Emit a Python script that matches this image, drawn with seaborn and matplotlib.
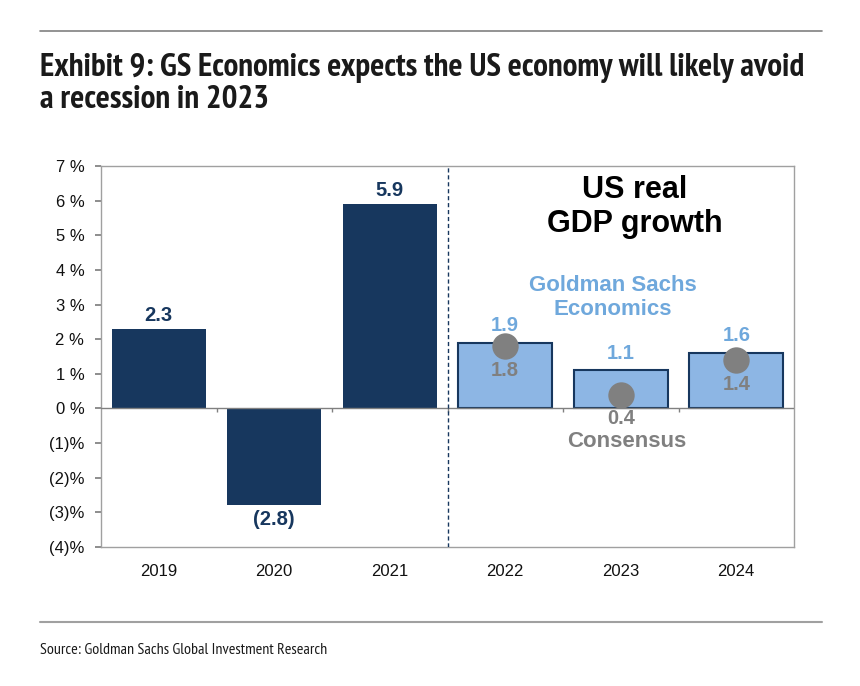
import matplotlib
matplotlib.use("Agg")
import matplotlib.pyplot as plt
from matplotlib.lines import Line2D
from matplotlib import font_manager
import matplotlib.patheffects as pe
import seaborn as sns
import pandas as pd
import numpy as np

# ---- data ----
years = ["2019", "2020", "2021", "2022", "2023", "2024"]
actual_years = ["2019", "2020", "2021"]
actual_values = [2.3, -2.8, 5.9]
actual_labels = ["2.3", "(2.8)", "5.9"]
forecast_years = ["2022", "2023", "2024"]
gs_values = [1.9, 1.1, 1.6]
gs_labels = ["1.9", "1.1", "1.6"]
consensus_values = [1.8, 0.4, 1.4]
consensus_labels = ["1.8", "0.4", "1.4"]
y_ticks = [-4, -3, -2, -1, 0, 1, 2, 3, 4, 5, 6, 7]

NAVY = "#17375E"
LIGHT = "#8DB6E4"
GS_TEXT = "#6FA8DC"
GRAY = "#808080"
HDR = "#1a1a1a"

sns.set_theme(style="white")
plt.rcParams["font.family"] = ["Liberation Sans", "DejaVu Sans"]

# look for a narrow / condensed face for the header (fallback: Liberation Sans)
CONDENSED = ("condensed", "semi-condensed", "extra-condensed", "ultra-condensed")


def _w(f):
    w = f.weight
    if isinstance(w, str):
        return 700 if "bold" in w.lower() else 400
    return int(w)


narrow = [f for f in font_manager.fontManager.ttflist
          if "Narrow" in f.name or "Narrow" in str(f.fname)]
cond_name, cond_stretch, bold_available = "Liberation Sans", "normal", True
if narrow:
    bold_narrow = [f for f in narrow if _w(f) >= 600]
    pick = bold_narrow[0] if bold_narrow else narrow[0]
    bold_available = bool(bold_narrow)
    cond_name = pick.name
    st = pick.stretch if isinstance(pick.stretch, str) else str(pick.stretch)
    cond_stretch = st if st in CONDENSED else "normal"

df = pd.DataFrame({
    "year": actual_years + forecast_years,
    "value": actual_values + gs_values,
    "kind": ["actual"] * len(actual_years) + ["gs"] * len(forecast_years),
})

fig = plt.figure(figsize=(8.6, 6.86), dpi=100)
ax = fig.add_axes([101 / 860, 1 - 547 / 686, (794 - 101) / 860, (547 - 166) / 686])

sns.barplot(data=df, x="year", y="value", hue="kind", order=years,
            palette={"actual": NAVY, "gs": LIGHT}, dodge=False, width=0.81,
            legend=False, ax=ax, saturation=1)
light_rgb = matplotlib.colors.to_rgb(LIGHT)
for p in ax.patches:
    fc = p.get_facecolor()
    if abs(fc[0] - light_rgb[0]) < 0.02:
        p.set_edgecolor(NAVY)
        p.set_linewidth(1.5)
    else:
        p.set_linewidth(0)

sns.stripplot(x=forecast_years, y=consensus_values, order=years, jitter=False,
              color=GRAY, size=19, ax=ax, zorder=5, linewidth=0)

ax.set_xlim(-0.5, len(years) - 0.5)
ax.set_ylim(min(y_ticks), max(y_ticks))
ax.set_yticks(y_ticks)
ax.set_yticklabels([f"{v} %" if v >= 0 else f"({-v})%" for v in y_ticks])
ax.set_xlabel("")
ax.set_ylabel("")
ax.tick_params(axis="y", length=4, color=GRAY, direction="out", labelsize=12, pad=8,
               left=True, labelcolor="#111111")
ax.tick_params(axis="x", length=0, labelsize=12, pad=12, labelcolor="#111111")
for s in ax.spines.values():
    s.set_color("#A0A0A0")
    s.set_linewidth(1)

ax.axhline(0, color=GRAY, lw=1, zorder=3)
bounds = np.arange(0.5, len(years) - 1)
ax.vlines(bounds, -0.1, 0, color=GRAY, lw=1, zorder=3)
ax.axvline(len(actual_years) - 0.5, color=NAVY, lw=1, ls=(0, (3, 2)), zorder=4)

# value labels
for i, (v, lab) in enumerate(zip(actual_values, actual_labels)):
    if v >= 0:
        ax.text(i, v + 0.12, lab, ha="center", va="bottom", color=NAVY,
                fontsize=14.5, fontweight="bold")
    else:
        ax.text(i, v - 0.12, lab, ha="center", va="top", color=NAVY,
                fontsize=14.5, fontweight="bold")

off = len(actual_years)
for j, (g, c, gl, cl) in enumerate(zip(gs_values, consensus_values, gs_labels, consensus_labels)):
    x = off + j
    gy = g + 0.22 if g >= c + 0.3 else max(g, c) + 0.22
    ax.text(x, gy, gl, ha="center", va="bottom",
            color=GS_TEXT, fontsize=14.5, fontweight="bold", zorder=4)
    ax.text(x, c - 0.42, cl, ha="center", va="top", color=GRAY,
            fontsize=14.5, fontweight="bold", zorder=4)

ax.text(4.12, 5.82, "US real\nGDP growth", ha="center", va="center", fontsize=22,
        fontweight="bold", color="black", linespacing=1.15)
ax.text(3.93, 3.2, "Goldman Sachs\nEconomics", ha="center", va="center", fontsize=16,
        fontweight="bold", color=GS_TEXT, linespacing=1.2)
ax.text(4.05, -0.95, "Consensus", ha="center", va="center", fontsize=16,
        fontweight="bold", color=GRAY)

# header / footer rules
fig.add_artist(Line2D([40 / 860, 822 / 860], [1 - 31 / 686] * 2, transform=fig.transFigure,
                      color=GRAY, lw=1.2))
fig.add_artist(Line2D([40 / 860, 822 / 860], [1 - 622 / 686] * 2, transform=fig.transFigure,
                      color="#A0A0A0", lw=1.5))

hdr_family = [cond_name, "Liberation Sans", "DejaVu Sans"]
bold_fx = [] if bold_available else [pe.withStroke(linewidth=1.6, foreground=HDR)]
t1 = fig.text(40 / 860, 1 - 76 / 686, "Exhibit 9: GS Economics expects the US economy will likely avoid",
              ha="left", va="baseline", fontsize=23, fontweight="bold", family=hdr_family,
              fontstretch=cond_stretch, color=HDR, path_effects=bold_fx)
t2 = fig.text(40 / 860, 1 - 108 / 686, "a recession in 2023",
              ha="left", va="baseline", fontsize=23, fontweight="bold", family=hdr_family,
              fontstretch=cond_stretch, color=HDR, path_effects=bold_fx)
src = fig.text(40 / 860, 1 - 654 / 686, "Source: Goldman Sachs Global Investment Research",
               ha="left", va="baseline", fontsize=14, family=hdr_family,
               fontstretch=cond_stretch, color=HDR)

r = fig.canvas.get_renderer()
w = t1.get_window_extent(r).width
fs = min(25, 23 * 764 / w)
t1.set_fontsize(fs)
t2.set_fontsize(fs)
w2 = src.get_window_extent(r).width
fit2 = 14 * 239 / w2
src.set_fontsize(min(14, np.sqrt(14 * fit2)))

fig.savefig("out.png", dpi=100)
